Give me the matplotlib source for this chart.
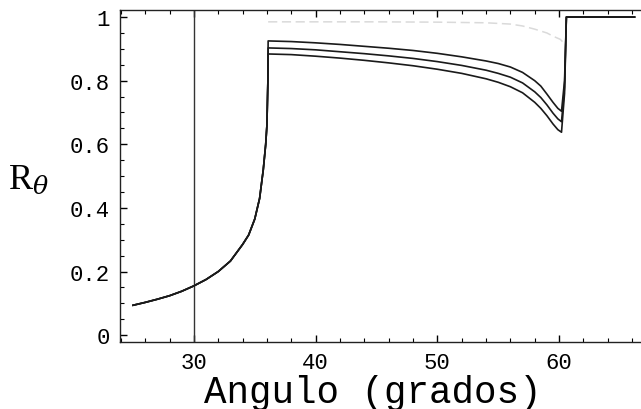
import matplotlib
matplotlib.use("Agg")
import matplotlib.pyplot as plt
from matplotlib.ticker import MultipleLocator, FixedLocator, FixedFormatter
import numpy as np

# rising part, shared by the three curves (angle in degrees, R_theta)
theta_rise = [25, 26, 27, 28, 29, 30, 31, 32, 33, 34, 34.5, 35, 35.4, 35.7, 35.9, 36.0, 36.08]
R_rise = [0.094, 0.103, 0.113, 0.124, 0.138, 0.155, 0.175, 0.2, 0.233, 0.285, 0.315, 0.365,
          0.43, 0.52, 0.6, 0.66, 0.8]

# after the jump: three curves
theta_after = [36.1, 38, 40, 42, 44, 46, 48, 50, 52, 54, 55, 56, 57, 58, 58.5, 59, 59.5, 59.9, 60.2, 60.45, 60.6, 66.2]
R_top = [0.925, 0.923, 0.919, 0.914, 0.908, 0.902, 0.895, 0.886, 0.875, 0.862, 0.854, 0.843, 0.826,
         0.8, 0.783, 0.758, 0.732, 0.713, 0.704, 0.8, 1.0, 1.0]
R_mid = [0.903, 0.901, 0.897, 0.891, 0.885, 0.878, 0.870, 0.860, 0.848, 0.833, 0.823, 0.811, 0.793,
         0.765, 0.747, 0.724, 0.698, 0.68, 0.671, 0.78, 1.0, 1.0]
R_bot = [0.884, 0.882, 0.877, 0.871, 0.864, 0.856, 0.847, 0.836, 0.823, 0.806, 0.795, 0.781, 0.762,
         0.732, 0.713, 0.69, 0.664, 0.646, 0.638, 0.76, 1.0, 1.0]

# faint gray dashed curve
theta_gray = [36.1, 40, 45, 50, 54, 56, 57, 58, 59, 59.5, 60.1, 60.6]
R_gray = [0.985, 0.985, 0.985, 0.984, 0.982, 0.978, 0.972, 0.962, 0.95, 0.94, 0.93, 0.91]

theta_limit = 30

xticks = [30, 40, 50, 60]
yticks = [0, 0.2, 0.4, 0.6, 0.8, 1]
ytick_labels = ["0", "0.2", "0.4", "0.6", "0.8", "1"]

plt.rcParams["mathtext.fontset"] = "dejavuserif"

fig = plt.figure(figsize=(6.41, 4.10), dpi=100)
ax = fig.add_axes([0.187, 0.163, 0.813, 0.81])

ax.plot(theta_gray, R_gray, color="#dadada", lw=1.1, dashes=(6, 3))
ax.axvline(theta_limit, color="#333333", lw=1.0)
for R in (R_top, R_mid, R_bot):
    ax.plot(theta_rise + theta_after, R_rise + R, color="#1a1a1a", lw=1.2)

ax.set_xlim(23.92, 66.73)
ax.set_ylim(-0.022, 1.022)

ax.spines["right"].set_visible(False)
for s in ("left", "bottom", "top"):
    ax.spines[s].set_linewidth(1.0)
    ax.spines[s].set_color("#222222")

ax.xaxis.set_major_locator(FixedLocator(xticks))
ax.xaxis.set_minor_locator(MultipleLocator(2))
ax.yaxis.set_major_locator(FixedLocator(yticks))
ax.yaxis.set_major_formatter(FixedFormatter(ytick_labels))
ax.yaxis.set_minor_locator(MultipleLocator(0.05))
ax.tick_params(which="both", direction="in", top=True, right=False)
ax.tick_params(which="major", length=5, width=1, pad=7)
ax.tick_params(which="minor", length=3, width=0.8)

for lab in ax.get_xticklabels() + ax.get_yticklabels():
    lab.set_fontfamily("Liberation Mono")
    lab.set_fontsize(16)

fig.text(0.581, 0.017, "Angulo (grados)", fontfamily="Liberation Mono", fontsize=27,
         ha="center", va="baseline")
fig.text(0.045, 0.56, r"R$_\theta$", fontfamily="Liberation Serif", fontsize=26,
         ha="center", va="center")

fig.savefig("out.png", dpi=100)
